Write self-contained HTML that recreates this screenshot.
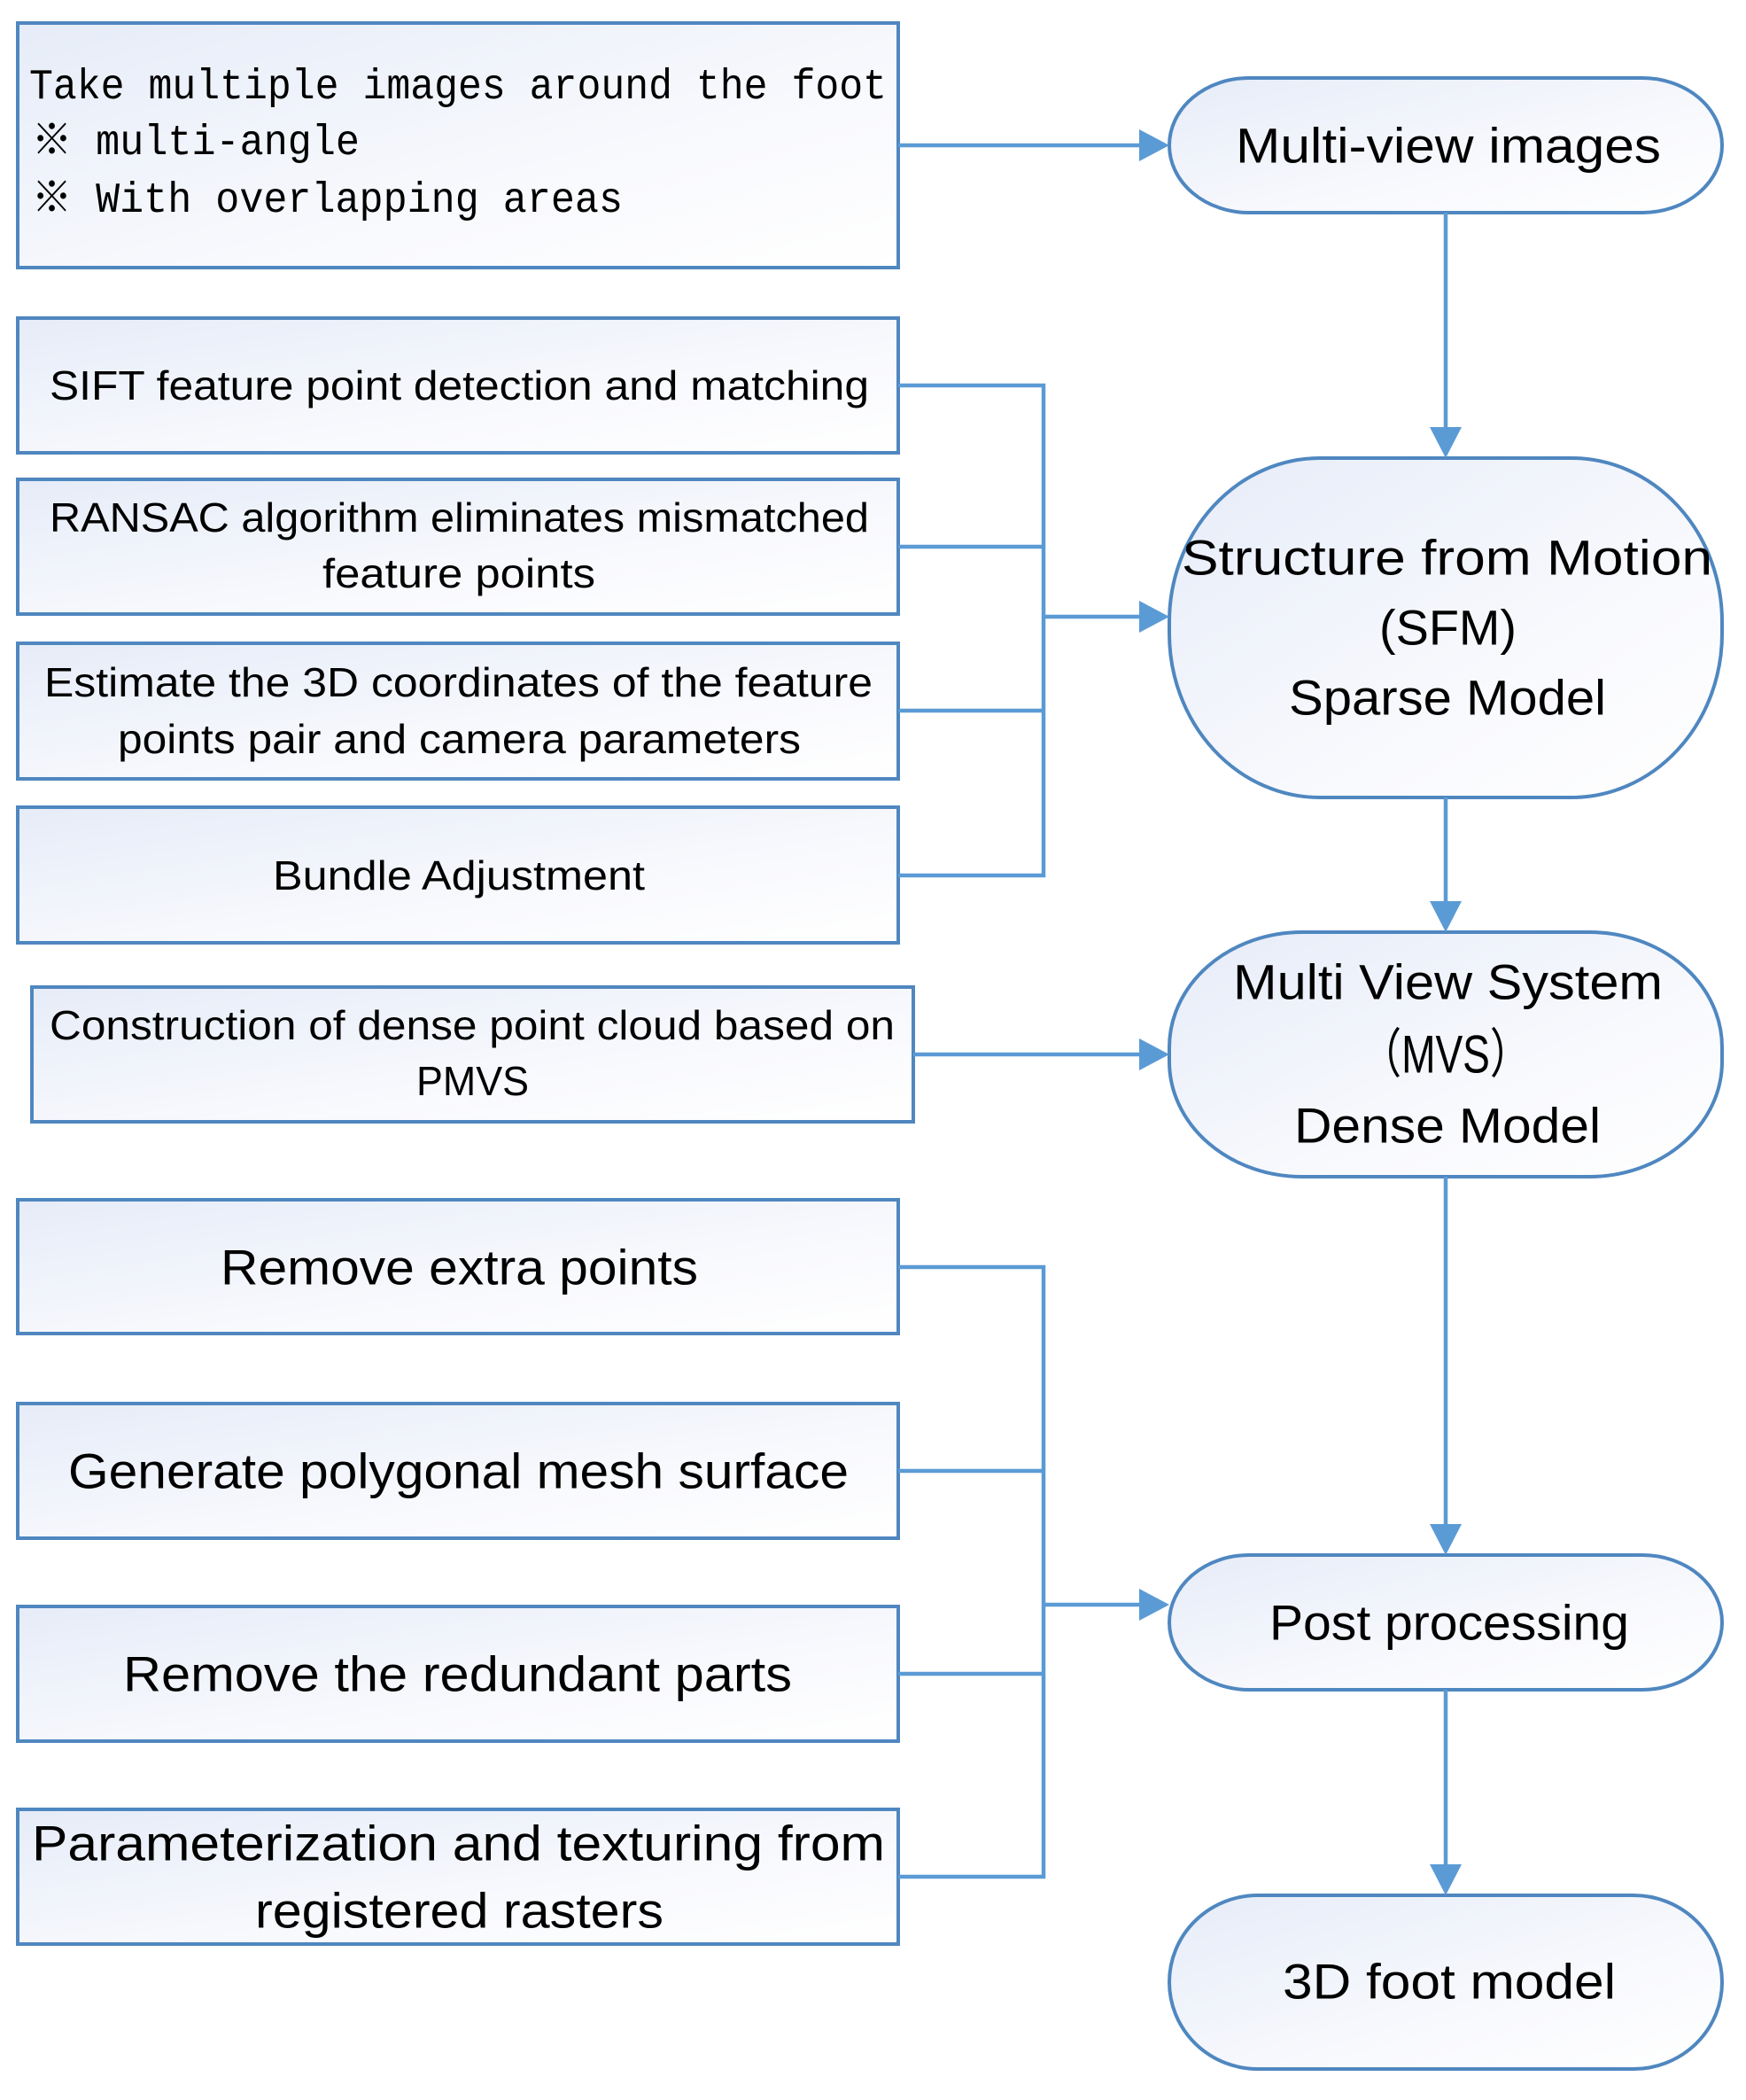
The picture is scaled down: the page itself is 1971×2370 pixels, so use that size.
<!DOCTYPE html>
<html><head><meta charset="utf-8"><style>html,body{margin:0;padding:0;background:#fff}svg{display:block}</style></head>
<body>
<svg width="1971" height="2370" viewBox="0 0 1971 2370" xmlns="http://www.w3.org/2000/svg">
<defs>
<linearGradient id="g" x1="0" y1="0" x2="1" y2="1"><stop offset="0" stop-color="#e6ecf8"/><stop offset="0.6" stop-color="#f8f9fd"/><stop offset="1" stop-color="#ffffff"/></linearGradient>
</defs>
<g fill="url(#g)" stroke="#4f87c0" stroke-width="4">
<rect x="20" y="26" width="994" height="276"/>
<rect x="20" y="359" width="994" height="152"/>
<rect x="20" y="541" width="994" height="152"/>
<rect x="20" y="726" width="994" height="153"/>
<rect x="20" y="911" width="994" height="153"/>
<rect x="36" y="1114" width="995" height="152"/>
<rect x="20" y="1354" width="994" height="151"/>
<rect x="20" y="1584" width="994" height="152"/>
<rect x="20" y="1813" width="994" height="152"/>
<rect x="20" y="2042" width="994" height="152"/>
<rect x="1320" y="88" width="624" height="152" rx="90" ry="76"/>
<rect x="1320" y="517" width="624" height="383" rx="170" ry="185"/>
<rect x="1320" y="1052" width="624" height="276" rx="150" ry="130"/>
<rect x="1320" y="1755" width="624" height="152" rx="90" ry="76"/>
<rect x="1320" y="2139" width="624" height="196" rx="100" ry="98"/>
</g>
<g stroke="#5b9bd5" stroke-width="4.5" fill="none">
<path d="M1014 164H1290"/>
<path d="M1632 240V485"/>
<path d="M1632 900V1020"/>
<path d="M1632 1328V1723"/>
<path d="M1632 1907V2107"/>
<path d="M1014 435H1178V988H1014M1014 617H1178M1014 802H1178M1178 696H1290"/>
<path d="M1031 1190H1290"/>
<path d="M1014 1430H1178V2118H1014M1014 1660H1178M1014 1889H1178M1178 1811H1290"/>
</g>
<g fill="#5b9bd5">
<polygon points="1286,146 1320,164 1286,182"/>
<polygon points="1286,678 1320,696 1286,714"/>
<polygon points="1286,1172 1320,1190 1286,1208"/>
<polygon points="1286,1793 1320,1811 1286,1829"/>
<polygon points="1614,482 1650,482 1632,517"/>
<polygon points="1614,1017 1650,1017 1632,1052"/>
<polygon points="1614,1720 1650,1720 1632,1755"/>
<polygon points="1614,2104 1650,2104 1632,2139"/>
</g>
<g font-family="'Liberation Mono','Noto Sans CJK JP',monospace" font-size="48" fill="#000" dominant-baseline="central">
<text x="33" y="99" textLength="968" lengthAdjust="spacingAndGlyphs">Take multiple images around the foot</text>
<text x="36" y="162" textLength="370" lengthAdjust="spacingAndGlyphs">※ multi-angle</text>
<text x="36" y="227" textLength="667" lengthAdjust="spacingAndGlyphs">※ With overlapping areas</text>
</g>
<g font-family="'Liberation Sans',sans-serif" font-size="46" fill="#000" dominant-baseline="central">
<text x="56" y="435" textLength="925" lengthAdjust="spacingAndGlyphs">SIFT feature point detection and matching</text>
<text x="56" y="584" textLength="925" lengthAdjust="spacingAndGlyphs">RANSAC algorithm eliminates mismatched</text>
<text x="364" y="647" textLength="308" lengthAdjust="spacingAndGlyphs">feature points</text>
<text x="50" y="770" textLength="935" lengthAdjust="spacingAndGlyphs">Estimate the 3D coordinates of the feature</text>
<text x="133" y="834" textLength="771" lengthAdjust="spacingAndGlyphs">points pair and camera parameters</text>
<text x="308" y="988" textLength="420" lengthAdjust="spacingAndGlyphs">Bundle Adjustment</text>
<text x="56" y="1157" textLength="954" lengthAdjust="spacingAndGlyphs">Construction of dense point cloud based on</text>
<text x="470" y="1220" textLength="127" lengthAdjust="spacingAndGlyphs">PMVS</text>
</g>
<g font-family="'Liberation Sans','Noto Sans CJK SC',sans-serif" font-size="56" fill="#000" dominant-baseline="central">
<text x="249" y="1430" textLength="539" lengthAdjust="spacingAndGlyphs">Remove extra points</text>
<text x="77" y="1660" textLength="881" lengthAdjust="spacingAndGlyphs">Generate polygonal mesh surface</text>
<text x="139" y="1889" textLength="755" lengthAdjust="spacingAndGlyphs">Remove the redundant parts</text>
<text x="36" y="2080" textLength="963" lengthAdjust="spacingAndGlyphs">Parameterization and texturing from</text>
<text x="288" y="2156" textLength="461" lengthAdjust="spacingAndGlyphs">registered rasters</text>
<text x="1395" y="164" textLength="480" lengthAdjust="spacingAndGlyphs">Multi-view images</text>
<text x="1334" y="629" textLength="599" lengthAdjust="spacingAndGlyphs">Structure from Motion</text>
<text x="1557" y="708" textLength="155" lengthAdjust="spacingAndGlyphs">(SFM)</text>
<text x="1455" y="787" textLength="358" lengthAdjust="spacingAndGlyphs">Sparse Model</text>
<text x="1392" y="1108" textLength="485" lengthAdjust="spacingAndGlyphs">Multi View System</text>
<text x="1536" y="1190" textLength="192" lengthAdjust="spacingAndGlyphs" font-size="60">（MVS）</text>
<text x="1461" y="1270" textLength="346" lengthAdjust="spacingAndGlyphs">Dense Model</text>
<text x="1433" y="1831" textLength="406" lengthAdjust="spacingAndGlyphs">Post processing</text>
<text x="1448" y="2236" textLength="376" lengthAdjust="spacingAndGlyphs">3D foot model</text>
</g>
</svg>
</body></html>
